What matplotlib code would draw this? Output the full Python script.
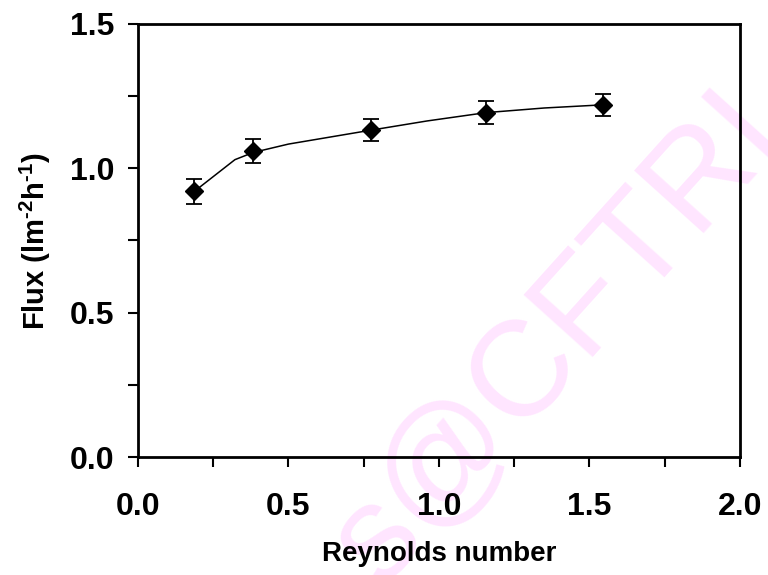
import matplotlib
matplotlib.use("Agg")
import matplotlib.pyplot as plt
from matplotlib.ticker import MultipleLocator

plt.rcParams.update({
    "font.family": ["Liberation Sans", "DejaVu Sans"],
    "font.weight": "bold",
    "mathtext.fontset": "custom",
    "mathtext.rm": "Liberation Sans:bold",
    "mathtext.it": "Liberation Sans:bold",
    "mathtext.bf": "Liberation Sans:bold",
})

# measured points (Reynolds number vs flux) with error bars
reynolds = [0.187, 0.383, 0.773, 1.157, 1.546]
flux = [0.92, 1.06, 1.132, 1.193, 1.22]
flux_err = [0.042, 0.041, 0.038, 0.041, 0.039]

# connecting curve as drawn in the original
curve_x = [0.187, 0.322, 0.383, 0.50, 0.773, 0.96, 1.157, 1.35, 1.546]
curve_y = [0.92, 1.03, 1.055, 1.084, 1.132, 1.164, 1.193, 1.209, 1.22]

fig = plt.figure(figsize=(7.68, 5.75), dpi=100)
ax = fig.add_axes([0.1797, 0.2052, 0.7838, 0.7531])

# watermark (behind everything)
fig.text(0.726, 0.410, "s@CFTRI", rotation=48, rotation_mode="anchor",
         ha="center", va="center", fontsize=98, fontweight="normal",
         color="#FFE5FF", zorder=-5)
ax.set_facecolor("none")

ax.plot(curve_x, curve_y, color="black", lw=1.1, zorder=2)
ax.errorbar(reynolds, flux, yerr=flux_err, fmt="D", color="black", ms=9,
            capsize=5.5, elinewidth=1.3, capthick=1.3, zorder=3)

ax.set_xlim(0, 2.0)
ax.set_ylim(0, 1.5)
ax.xaxis.set_major_locator(MultipleLocator(0.5))
ax.xaxis.set_minor_locator(MultipleLocator(0.25))
ax.yaxis.set_major_locator(MultipleLocator(0.5))
ax.yaxis.set_minor_locator(MultipleLocator(0.25))
ax.xaxis.set_major_formatter(plt.FormatStrFormatter("%.1f"))
ax.yaxis.set_major_formatter(plt.FormatStrFormatter("%.1f"))

ax.tick_params(which="both", direction="out", length=7, width=1.5, top=False, right=False)
ax.tick_params(axis="x", which="major", labelsize=23, pad=18)
ax.tick_params(axis="y", which="major", labelsize=23, pad=10)
for sp in ax.spines.values():
    sp.set_linewidth(2.0)

ax.set_xlabel("Reynolds number", fontsize=20, fontweight="bold", labelpad=14)
ax.set_ylabel("Flux (lm$^{\\text{-2}}$h$^{\\text{-1}}$)", fontsize=21,
              fontweight="bold", labelpad=12)

fig.savefig("out.png", dpi=100, facecolor="white")
